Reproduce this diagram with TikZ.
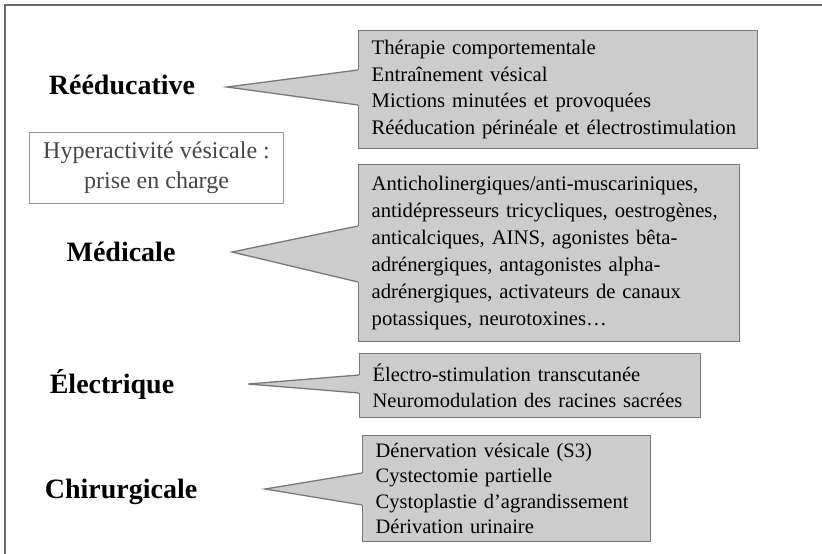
\documentclass[tikz,border=0pt]{standalone}
\usepackage{fontspec}
\setmainfont{Liberation Serif}
\usetikzlibrary{calc}
\definecolor{boxfill}{RGB}{204,204,204}
\definecolor{boxline}{RGB}{120,120,120}
\definecolor{frameline}{RGB}{105,105,105}
\definecolor{titletext}{RGB}{70,70,70}
\definecolor{titleline}{RGB}{150,150,150}
\begin{document}
\begin{tikzpicture}[x=1pt,y=-1pt,
  cat/.style={font=\fontsize{28}{34}\selectfont\bfseries, anchor=base, inner sep=0pt},
  listbox/.style={draw=boxline, fill=boxfill, line width=1.3pt, anchor=north west,
    align=left, inner xsep=13pt, inner ysep=0pt},
  titlebox/.style={draw=titleline, line width=1pt, anchor=north west, align=center,
    text=titletext, inner sep=0pt, font=\fontsize{24}{30}\selectfont},
  wedgefill/.style={fill=boxfill},
  wedgeline/.style={draw=boxline, line width=1.3pt, line join=miter},
]
\useasboundingbox (0,0) rectangle (822,554);
\draw[frameline, line width=2pt] (5,554) -- (5,5) -- (822,5);

% title
\node[titlebox, minimum width=254pt, minimum height=71pt] (title) at (29,132)
  {Hyperactivité vésicale :\\prise en charge};

% category labels
\node[cat] (c1) at (122,94) {Rééducative};
\node[cat] (c2) at (121,261) {Médicale};
\node[cat] (c3) at (112,393) {Électrique};
\node[cat] (c4) at (121,498) {Chirurgicale};

% boxes
\node[listbox, text width=373pt, minimum height=118pt, font=\fontsize{20.7}{26.5}\selectfont] (b1) at (358,30)
  {Thérapie comportementale\\Entraînement vésical\\Mictions minutées et provoquées\\Rééducation périnéale et électrostimulation};
\node[listbox, text width=355pt, minimum height=177pt, font=\fontsize{20.7}{27}\selectfont] (b2) at (358,164)
  {Anticholinergiques/anti-muscariniques,\\antidépresseurs tricycliques, oestrogènes,\\anticalciques, AINS, agonistes bêta-\\adrénergiques, antagonistes alpha-\\adrénergiques, activateurs de canaux\\potassiques, neurotoxines\dots};
\node[listbox, text width=315pt, minimum height=64pt, font=\fontsize{20.5}{25.5}\selectfont] (b3) at (359,353)
  {Électro-stimulation transcutanée\\Neuromodulation des racines sacrées};
\node[listbox, text width=262pt, minimum height=106pt, font=\fontsize{20.5}{25.5}\selectfont] (b4) at (362,435)
  {Dénervation vésicale (S3)\\Cystectomie partielle\\Cystoplastie d’agrandissement\\Dérivation urinaire};

% wedge tips
\coordinate (t1) at (227,87);
\coordinate (t2) at (232,252);
\coordinate (t3) at (248,384);
\coordinate (t4) at (265,489);

% wedge bases on box left sides
\coordinate (a1) at ($(b1.north west)+(0,40)$);
\coordinate (z1) at ($(b1.north west)+(0,75)$);
\coordinate (a2) at ($(b2.north west)+(0,62)$);
\coordinate (z2) at ($(b2.north west)+(0,118)$);
\coordinate (a3) at ($(b3.north west)+(0,22)$);
\coordinate (z3) at ($(b3.north west)+(0,40)$);
\coordinate (a4) at ($(b4.north west)+(0,38)$);
\coordinate (z4) at ($(b4.north west)+(0,70)$);

\foreach \i in {1,2,3,4}{
  \fill[wedgefill] (t\i) -- (a\i) -- ($(a\i)+(2,0)$) -- ($(z\i)+(2,0)$) -- (z\i) -- cycle;
  \draw[wedgeline] (a\i) -- (t\i) -- (z\i);
}
\end{tikzpicture}
\end{document}
